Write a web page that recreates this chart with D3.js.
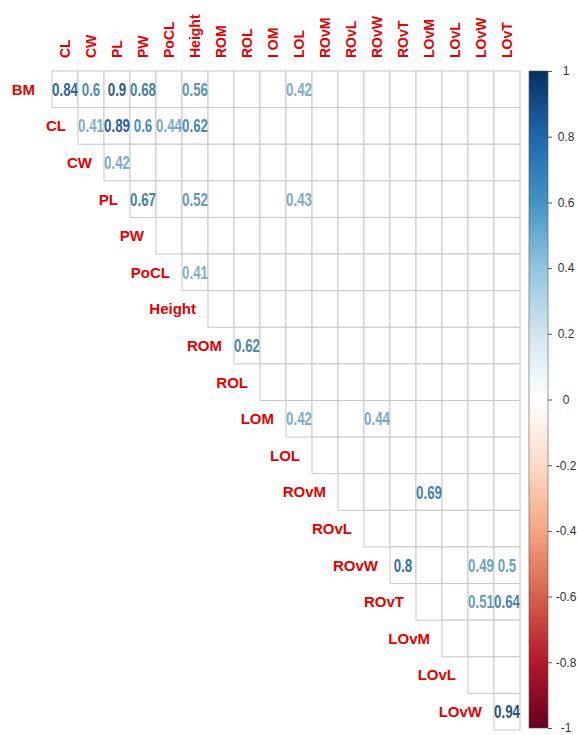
<!DOCTYPE html>
<html><head><meta charset="utf-8">
<script src="https://cdn.jsdelivr.net/npm/d3@7"></script>
<style>body{margin:0;background:#fff}svg{display:block}</style>
</head><body>
<script>
const rowVars = ["BM","CL","CW","PL","PW","PoCL","Height","ROM","ROL","LOM","LOL","ROvM","ROvL","ROvW","ROvT","LOvM","LOvL","LOvW"];
const colVars = ["CL","CW","PL","PW","PoCL","Height","ROM","ROL","LOM","LOL","ROvM","ROvL","ROvW","ROvT","LOvM","LOvL","LOvW","LOvT"];
const colLabels = ["CL","CW","PL","PW","PoCL","Height","ROM","ROL","I OM","LOL","ROvM","ROvL","ROvW","ROvT","LOvM","LOvL","LOvW","LOvT"];
// significant correlations shown as numbers: [row, column, r]
const corrRows = ["BM","BM","BM","BM","BM","BM","CL","CL","CL","CL","CL","CW","PL","PL","PL","PoCL","ROM","LOM","LOM","ROvM","ROvW","ROvW","ROvW","ROvT","ROvT","LOvW"];
const corrCols = ["CL","CW","PL","PW","Height","LOL","CW","PL","PW","PoCL","Height","PL","PW","Height","LOL","Height","ROL","LOL","ROvW","LOvM","ROvT","LOvW","LOvT","LOvW","LOvT","LOvT"];
const corrVals = [0.84,0.6,0.9,0.68,0.56,0.42,0.41,0.89,0.6,0.44,0.62,0.42,0.67,0.52,0.43,0.41,0.62,0.42,0.44,0.69,0.8,0.49,0.5,0.51,0.64,0.94];
const legendTicks = [1,0.8,0.6,0.4,0.2,0,-0.2,-0.4,-0.6,-0.8,-1];
const palette = ["#67001F","#B2182B","#D6604D","#F4A582","#FDDBC7","#FFFFFF","#D1E5F0","#92C5DE","#4393C3","#2166AC","#053061"];

const W = 578, H = 735;
const svg = d3.select("body").append("svg").attr("width", W).attr("height", H);

const x = d3.scaleBand().domain(colVars).range([52, 520]);
const y = d3.scaleBand().domain(rowVars).range([71, 730]);
const color = d3.scaleLinear().domain(d3.range(11).map(i => -1 + i * 0.2)).range(palette).interpolate(d3.interpolateRgb);
const textColor = v => d3.interpolateRgb(color(v), "#6a7f90")(0.3);

const red = "#e60000";

// grid cells (upper triangle)
const cells = [];
rowVars.forEach((r, i) => colVars.forEach((c, j) => { if (j >= i) cells.push({r, c}); }));
svg.append("g").selectAll("rect").data(cells).join("rect")
  .attr("x", d => x(d.c)).attr("y", d => y(d.r))
  .attr("width", x.bandwidth()).attr("height", y.bandwidth())
  .attr("fill", "#fff").attr("stroke", "#c8c8c8").attr("stroke-width", 1);

// numbers
const nums = corrVals.map((v, i) => ({r: corrRows[i], c: corrCols[i], v}));
svg.append("g").selectAll("text").data(nums).join("text")
  .attr("transform", d => `translate(${x(d.c) + x.bandwidth() / 2},${y(d.r) + y.bandwidth() / 2}) scale(0.74,1)`)
  .attr("dy", "0.36em").attr("text-anchor", "middle")
  .attr("font-family", "'Liberation Sans',Arial,sans-serif")
  .attr("font-weight", "bold").attr("font-size", 18)
  .attr("fill", d => textColor(d.v))
  .text(d => String(d.v));

// column labels
svg.append("g").selectAll("text").data(colVars).join("text")
  .attr("transform", (d, i) => `translate(${x(d) + x.bandwidth() / 2 + 5},58) rotate(-90)`)
  .attr("text-anchor", "start")
  .attr("font-family", "'Liberation Sans',Arial,sans-serif")
  .attr("font-weight", "bold").attr("font-size", 14).attr("fill", red)
  .text((d, i) => colLabels[i]);

// row labels
svg.append("g").selectAll("text").data(rowVars).join("text")
  .attr("x", (d, i) => x(colVars[i]) - (i === 0 ? 17 : 12))
  .attr("y", d => y(d) + y.bandwidth() / 2)
  .attr("dy", "0.36em").attr("text-anchor", "end")
  .attr("font-family", "'Liberation Sans',Arial,sans-serif")
  .attr("font-weight", "bold").attr("font-size", 15).attr("fill", red)
  .text(d => d);

// colour bar
const cb = d3.scaleLinear().domain([1, -1]).range([71, 728]);
const defs = svg.append("defs");
const grad = defs.append("linearGradient").attr("id", "cbar").attr("x1", 0).attr("x2", 0).attr("y1", 0).attr("y2", 1);
d3.range(0, 1.0001, 0.05).forEach(t => {
  grad.append("stop").attr("offset", t).attr("stop-color", color(1 - 2 * t));
});
svg.append("rect").attr("x", 529).attr("y", cb(1)).attr("width", 19).attr("height", cb(-1) - cb(1))
  .attr("fill", "url(#cbar)").attr("stroke", "#555").attr("stroke-width", 0.6);
const ax = svg.append("g").attr("transform", "translate(548,0)")
  .call(d3.axisRight(cb).tickValues(legendTicks).tickSize(4).tickPadding(3)
    .tickFormat(d => String(d)));
ax.select(".domain").remove();
ax.selectAll(".tick line").attr("stroke", "#555");
ax.selectAll(".tick text").attr("x", 18).attr("text-anchor", "middle")
  .attr("font-family", "'Liberation Sans',Arial,sans-serif")
  .attr("font-size", 12).attr("fill", "#333");
</script>
</body></html>
